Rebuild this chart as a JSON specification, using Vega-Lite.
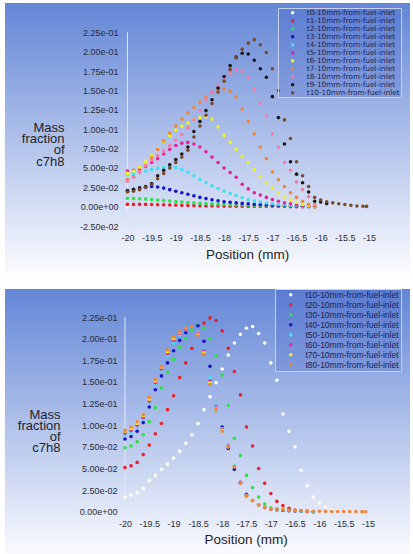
{
"$schema":"https://vega.github.io/schema/vega-lite/v6.json",
"padding":{"left":5,"top":3,"right":3,"bottom":0},
"background":"white",
"spacing":15,
"config":{"font":"Liberation Sans","view":{"stroke":null}},
"datasets":{
"top":[
{"s":"t0","x":-20,"y":0},{"s":"t0","x":-19,"y":0},{"s":"t0","x":-18,"y":0},{"s":"t0","x":-17,"y":0},
{"s":"t1","x":-20,"y":0.003},{"s":"t1","x":-19.875,"y":0.003},{"s":"t1","x":-19.75,"y":0.003},{"s":"t1","x":-19.625,"y":0.003},{"s":"t1","x":-19.5,"y":0.0028},{"s":"t1","x":-19.375,"y":0.0026},{"s":"t1","x":-19.25,"y":0.0024},{"s":"t1","x":-19.125,"y":0.0022},{"s":"t1","x":-19,"y":0.002},{"s":"t1","x":-18.875,"y":0.0018},{"s":"t1","x":-18.75,"y":0.0016},{"s":"t1","x":-18.625,"y":0.0014},{"s":"t1","x":-18.5,"y":0.0012},{"s":"t1","x":-18.375,"y":0.001},{"s":"t1","x":-18.25,"y":0.0009},{"s":"t1","x":-18.125,"y":0.0008},{"s":"t1","x":-18,"y":0.0007},{"s":"t1","x":-17.875,"y":0.0006},{"s":"t1","x":-17.75,"y":0.0005},{"s":"t1","x":-17.625,"y":0.0005},{"s":"t1","x":-17.5,"y":0.0004},{"s":"t1","x":-17.375,"y":0.0004},{"s":"t1","x":-17.25,"y":0.0003},{"s":"t1","x":-17.125,"y":0.0003},{"s":"t1","x":-17,"y":0.0002},{"s":"t1","x":-16.875,"y":0.0002},{"s":"t1","x":-16.75,"y":0.0002},{"s":"t1","x":-16.625,"y":0.0001},{"s":"t1","x":-16.5,"y":0.0001},{"s":"t1","x":-16.375,"y":0.0001},{"s":"t1","x":-16.25,"y":0},{"s":"t1","x":-16.125,"y":0},
{"s":"t2","x":-20,"y":0.011},{"s":"t2","x":-19.875,"y":0.0107},{"s":"t2","x":-19.75,"y":0.0103},{"s":"t2","x":-19.625,"y":0.0098},{"s":"t2","x":-19.5,"y":0.0092},{"s":"t2","x":-19.375,"y":0.0086},{"s":"t2","x":-19.25,"y":0.008},{"s":"t2","x":-19.125,"y":0.0073},{"s":"t2","x":-19,"y":0.0066},{"s":"t2","x":-18.875,"y":0.006},{"s":"t2","x":-18.75,"y":0.0055},{"s":"t2","x":-18.625,"y":0.005},{"s":"t2","x":-18.5,"y":0.0045},{"s":"t2","x":-18.375,"y":0.0041},{"s":"t2","x":-18.25,"y":0.0037},{"s":"t2","x":-18.125,"y":0.0033},{"s":"t2","x":-18,"y":0.003},{"s":"t2","x":-17.875,"y":0.0027},{"s":"t2","x":-17.75,"y":0.0024},{"s":"t2","x":-17.625,"y":0.0022},{"s":"t2","x":-17.5,"y":0.002},{"s":"t2","x":-17.375,"y":0.0017},{"s":"t2","x":-17.25,"y":0.0015},{"s":"t2","x":-17.125,"y":0.0012},{"s":"t2","x":-17,"y":0.001},{"s":"t2","x":-16.875,"y":0.0009},{"s":"t2","x":-16.75,"y":0.0007},{"s":"t2","x":-16.625,"y":0.0006},{"s":"t2","x":-16.5,"y":0.0005},{"s":"t2","x":-16.375,"y":0.0003},{"s":"t2","x":-16.25,"y":0.0002},{"s":"t2","x":-16.125,"y":0},
{"s":"t3","x":-20,"y":0.021},{"s":"t3","x":-19.875,"y":0.0225},{"s":"t3","x":-19.75,"y":0.024},{"s":"t3","x":-19.625,"y":0.025},{"s":"t3","x":-19.5,"y":0.026},{"s":"t3","x":-19.375,"y":0.0255},{"s":"t3","x":-19.25,"y":0.024},{"s":"t3","x":-19.125,"y":0.022},{"s":"t3","x":-19,"y":0.02},{"s":"t3","x":-18.875,"y":0.018},{"s":"t3","x":-18.75,"y":0.016},{"s":"t3","x":-18.625,"y":0.014},{"s":"t3","x":-18.5,"y":0.012},{"s":"t3","x":-18.375,"y":0.0105},{"s":"t3","x":-18.25,"y":0.009},{"s":"t3","x":-18.125,"y":0.0077},{"s":"t3","x":-18,"y":0.0065},{"s":"t3","x":-17.875,"y":0.0057},{"s":"t3","x":-17.75,"y":0.005},{"s":"t3","x":-17.625,"y":0.0043},{"s":"t3","x":-17.5,"y":0.0037},{"s":"t3","x":-17.375,"y":0.0032},{"s":"t3","x":-17.25,"y":0.0028},{"s":"t3","x":-17.125,"y":0.0024},{"s":"t3","x":-17,"y":0.002},{"s":"t3","x":-16.875,"y":0.0016},{"s":"t3","x":-16.75,"y":0.0013},{"s":"t3","x":-16.625,"y":0.001},{"s":"t3","x":-16.5,"y":0.0007},{"s":"t3","x":-16.375,"y":0.0004},{"s":"t3","x":-16.25,"y":0.0002},{"s":"t3","x":-16.125,"y":0},
{"s":"t4","x":-20,"y":0.041},{"s":"t4","x":-19.875,"y":0.0425},{"s":"t4","x":-19.75,"y":0.044},{"s":"t4","x":-19.625,"y":0.046},{"s":"t4","x":-19.5,"y":0.048},{"s":"t4","x":-19.375,"y":0.0495},{"s":"t4","x":-19.25,"y":0.0505},{"s":"t4","x":-19.125,"y":0.051},{"s":"t4","x":-19,"y":0.0505},{"s":"t4","x":-18.875,"y":0.048},{"s":"t4","x":-18.75,"y":0.0445},{"s":"t4","x":-18.625,"y":0.04},{"s":"t4","x":-18.5,"y":0.035},{"s":"t4","x":-18.375,"y":0.031},{"s":"t4","x":-18.25,"y":0.027},{"s":"t4","x":-18.125,"y":0.0235},{"s":"t4","x":-18,"y":0.02},{"s":"t4","x":-17.875,"y":0.017},{"s":"t4","x":-17.75,"y":0.0145},{"s":"t4","x":-17.625,"y":0.0115},{"s":"t4","x":-17.5,"y":0.009},{"s":"t4","x":-17.375,"y":0.0073},{"s":"t4","x":-17.25,"y":0.006},{"s":"t4","x":-17.125,"y":0.0048},{"s":"t4","x":-17,"y":0.0038},{"s":"t4","x":-16.875,"y":0.003},{"s":"t4","x":-16.75,"y":0.0023},{"s":"t4","x":-16.625,"y":0.0017},{"s":"t4","x":-16.5,"y":0.0012},{"s":"t4","x":-16.375,"y":0.0007},{"s":"t4","x":-16.25,"y":0.0003},{"s":"t4","x":-16.125,"y":0},
{"s":"t5","x":-20,"y":0.046},{"s":"t5","x":-19.875,"y":0.047},{"s":"t5","x":-19.75,"y":0.049},{"s":"t5","x":-19.625,"y":0.052},{"s":"t5","x":-19.5,"y":0.057},{"s":"t5","x":-19.375,"y":0.062},{"s":"t5","x":-19.25,"y":0.068},{"s":"t5","x":-19.125,"y":0.074},{"s":"t5","x":-19,"y":0.079},{"s":"t5","x":-18.875,"y":0.082},{"s":"t5","x":-18.75,"y":0.083},{"s":"t5","x":-18.625,"y":0.081},{"s":"t5","x":-18.5,"y":0.077},{"s":"t5","x":-18.375,"y":0.071},{"s":"t5","x":-18.25,"y":0.064},{"s":"t5","x":-18.125,"y":0.057},{"s":"t5","x":-18,"y":0.05},{"s":"t5","x":-17.875,"y":0.044},{"s":"t5","x":-17.75,"y":0.038},{"s":"t5","x":-17.625,"y":0.029},{"s":"t5","x":-17.5,"y":0.023},{"s":"t5","x":-17.375,"y":0.018},{"s":"t5","x":-17.25,"y":0.015},{"s":"t5","x":-17.125,"y":0.012},{"s":"t5","x":-17,"y":0.0092},{"s":"t5","x":-16.875,"y":0.007},{"s":"t5","x":-16.75,"y":0.0052},{"s":"t5","x":-16.625,"y":0.0038},{"s":"t5","x":-16.5,"y":0.0026},{"s":"t5","x":-16.375,"y":0.0015},{"s":"t5","x":-16.25,"y":0.0007},{"s":"t5","x":-16.125,"y":0},
{"s":"t6","x":-20,"y":0.043},{"s":"t6","x":-19.875,"y":0.046},{"s":"t6","x":-19.75,"y":0.051},{"s":"t6","x":-19.625,"y":0.058},{"s":"t6","x":-19.5,"y":0.066},{"s":"t6","x":-19.375,"y":0.075},{"s":"t6","x":-19.25,"y":0.084},{"s":"t6","x":-19.125,"y":0.092},{"s":"t6","x":-19,"y":0.099},{"s":"t6","x":-18.875,"y":0.104},{"s":"t6","x":-18.75,"y":0.108},{"s":"t6","x":-18.625,"y":0.112},{"s":"t6","x":-18.5,"y":0.115},{"s":"t6","x":-18.375,"y":0.116},{"s":"t6","x":-18.25,"y":0.113},{"s":"t6","x":-18.125,"y":0.103},{"s":"t6","x":-18,"y":0.092},{"s":"t6","x":-17.875,"y":0.083},{"s":"t6","x":-17.75,"y":0.074},{"s":"t6","x":-17.625,"y":0.065},{"s":"t6","x":-17.5,"y":0.057},{"s":"t6","x":-17.375,"y":0.048},{"s":"t6","x":-17.25,"y":0.039},{"s":"t6","x":-17.125,"y":0.031},{"s":"t6","x":-17,"y":0.024},{"s":"t6","x":-16.875,"y":0.018},{"s":"t6","x":-16.75,"y":0.013},{"s":"t6","x":-16.625,"y":0.0085},{"s":"t6","x":-16.5,"y":0.0055},{"s":"t6","x":-16.375,"y":0.003},{"s":"t6","x":-16.25,"y":0.0012},{"s":"t6","x":-16.125,"y":0},
{"s":"t7","x":-20,"y":0.035},{"s":"t7","x":-19.875,"y":0.039},{"s":"t7","x":-19.75,"y":0.045},{"s":"t7","x":-19.625,"y":0.053},{"s":"t7","x":-19.5,"y":0.063},{"s":"t7","x":-19.375,"y":0.074},{"s":"t7","x":-19.25,"y":0.085},{"s":"t7","x":-19.125,"y":0.095},{"s":"t7","x":-19,"y":0.104},{"s":"t7","x":-18.875,"y":0.113},{"s":"t7","x":-18.75,"y":0.121},{"s":"t7","x":-18.625,"y":0.128},{"s":"t7","x":-18.5,"y":0.135},{"s":"t7","x":-18.375,"y":0.141},{"s":"t7","x":-18.25,"y":0.147},{"s":"t7","x":-18.125,"y":0.151},{"s":"t7","x":-18,"y":0.152},{"s":"t7","x":-17.875,"y":0.149},{"s":"t7","x":-17.75,"y":0.142},{"s":"t7","x":-17.625,"y":0.126},{"s":"t7","x":-17.5,"y":0.11},{"s":"t7","x":-17.375,"y":0.094},{"s":"t7","x":-17.25,"y":0.077},{"s":"t7","x":-17.125,"y":0.062},{"s":"t7","x":-17,"y":0.045},{"s":"t7","x":-16.875,"y":0.035},{"s":"t7","x":-16.75,"y":0.026},{"s":"t7","x":-16.625,"y":0.018},{"s":"t7","x":-16.5,"y":0.012},{"s":"t7","x":-16.375,"y":0.007},{"s":"t7","x":-16.25,"y":0.003},{"s":"t7","x":-16.125,"y":0.0005},
{"s":"t8","x":-20,"y":0.033},{"s":"t8","x":-19.875,"y":0.038},{"s":"t8","x":-19.75,"y":0.045},{"s":"t8","x":-19.625,"y":0.053},{"s":"t8","x":-19.5,"y":0.06},{"s":"t8","x":-19.375,"y":0.066},{"s":"t8","x":-19.25,"y":0.072},{"s":"t8","x":-19.125,"y":0.079},{"s":"t8","x":-19,"y":0.086},{"s":"t8","x":-18.875,"y":0.093},{"s":"t8","x":-18.75,"y":0.102},{"s":"t8","x":-18.625,"y":0.112},{"s":"t8","x":-18.5,"y":0.124},{"s":"t8","x":-18.375,"y":0.138},{"s":"t8","x":-18.25,"y":0.148},{"s":"t8","x":-18.125,"y":0.156},{"s":"t8","x":-18,"y":0.164},{"s":"t8","x":-17.875,"y":0.172},{"s":"t8","x":-17.75,"y":0.177},{"s":"t8","x":-17.625,"y":0.175},{"s":"t8","x":-17.5,"y":0.167},{"s":"t8","x":-17.375,"y":0.151},{"s":"t8","x":-17.25,"y":0.134},{"s":"t8","x":-17.125,"y":0.117},{"s":"t8","x":-17,"y":0.094},{"s":"t8","x":-16.875,"y":0.077},{"s":"t8","x":-16.75,"y":0.057},{"s":"t8","x":-16.625,"y":0.047},{"s":"t8","x":-16.5,"y":0.032},{"s":"t8","x":-16.375,"y":0.022},{"s":"t8","x":-16.25,"y":0.013},{"s":"t8","x":-16.125,"y":0.003},
{"s":"t9","x":-20,"y":0.02},{"s":"t9","x":-19.875,"y":0.022},{"s":"t9","x":-19.75,"y":0.024},{"s":"t9","x":-19.625,"y":0.026},{"s":"t9","x":-19.5,"y":0.03},{"s":"t9","x":-19.375,"y":0.04},{"s":"t9","x":-19.25,"y":0.047},{"s":"t9","x":-19.125,"y":0.054},{"s":"t9","x":-19,"y":0.061},{"s":"t9","x":-18.875,"y":0.068},{"s":"t9","x":-18.75,"y":0.077},{"s":"t9","x":-18.625,"y":0.097},{"s":"t9","x":-18.5,"y":0.11},{"s":"t9","x":-18.375,"y":0.124},{"s":"t9","x":-18.25,"y":0.138},{"s":"t9","x":-18.125,"y":0.153},{"s":"t9","x":-18,"y":0.168},{"s":"t9","x":-17.875,"y":0.182},{"s":"t9","x":-17.75,"y":0.193},{"s":"t9","x":-17.625,"y":0.198},{"s":"t9","x":-17.5,"y":0.197},{"s":"t9","x":-17.375,"y":0.189},{"s":"t9","x":-17.25,"y":0.178},{"s":"t9","x":-17.125,"y":0.167},{"s":"t9","x":-17,"y":0.142},{"s":"t9","x":-16.875,"y":0.115},{"s":"t9","x":-16.75,"y":0.081},{"s":"t9","x":-16.625,"y":0.058},{"s":"t9","x":-16.5,"y":0.042},{"s":"t9","x":-16.375,"y":0.031},{"s":"t9","x":-16.25,"y":0.019},{"s":"t9","x":-16.125,"y":0.007},{"s":"t9","x":-16,"y":0.006},{"s":"t9","x":-15.875,"y":0.004},
{"s":"t10","x":-20,"y":0.019},{"s":"t10","x":-19.875,"y":0.02},{"s":"t10","x":-19.75,"y":0.022},{"s":"t10","x":-19.625,"y":0.025},{"s":"t10","x":-19.5,"y":0.029},{"s":"t10","x":-19.375,"y":0.036},{"s":"t10","x":-19.25,"y":0.043},{"s":"t10","x":-19.125,"y":0.05},{"s":"t10","x":-19,"y":0.057},{"s":"t10","x":-18.875,"y":0.064},{"s":"t10","x":-18.75,"y":0.073},{"s":"t10","x":-18.625,"y":0.09},{"s":"t10","x":-18.5,"y":0.104},{"s":"t10","x":-18.375,"y":0.118},{"s":"t10","x":-18.25,"y":0.133},{"s":"t10","x":-18.125,"y":0.148},{"s":"t10","x":-18,"y":0.162},{"s":"t10","x":-17.875,"y":0.177},{"s":"t10","x":-17.75,"y":0.192},{"s":"t10","x":-17.625,"y":0.203},{"s":"t10","x":-17.5,"y":0.211},{"s":"t10","x":-17.375,"y":0.2155},{"s":"t10","x":-17.25,"y":0.209},{"s":"t10","x":-17.125,"y":0.199},{"s":"t10","x":-17,"y":0.178},{"s":"t10","x":-16.875,"y":0.15},{"s":"t10","x":-16.75,"y":0.112},{"s":"t10","x":-16.625,"y":0.088},{"s":"t10","x":-16.5,"y":0.058},{"s":"t10","x":-16.375,"y":0.04},{"s":"t10","x":-16.25,"y":0.026},{"s":"t10","x":-16.125,"y":0.012},{"s":"t10","x":-16,"y":0.0086},{"s":"t10","x":-15.875,"y":0.0065},{"s":"t10","x":-15.75,"y":0.005},{"s":"t10","x":-15.625,"y":0.0038},{"s":"t10","x":-15.5,"y":0.0028},{"s":"t10","x":-15.375,"y":0.0018},{"s":"t10","x":-15.25,"y":0.001},{"s":"t10","x":-15.125,"y":0.0006},{"s":"t10","x":-15.05,"y":0.0004}
],
"bottom":[
{"s":"t10","x":-20,"y":0.017},{"s":"t10","x":-19.875,"y":0.019},{"s":"t10","x":-19.75,"y":0.022},{"s":"t10","x":-19.625,"y":0.027},{"s":"t10","x":-19.5,"y":0.036},{"s":"t10","x":-19.375,"y":0.042},{"s":"t10","x":-19.25,"y":0.049},{"s":"t10","x":-19.125,"y":0.055},{"s":"t10","x":-19,"y":0.062},{"s":"t10","x":-18.875,"y":0.07},{"s":"t10","x":-18.75,"y":0.079},{"s":"t10","x":-18.625,"y":0.089},{"s":"t10","x":-18.5,"y":0.102},{"s":"t10","x":-18.375,"y":0.118},{"s":"t10","x":-18.25,"y":0.133},{"s":"t10","x":-18.125,"y":0.149},{"s":"t10","x":-18,"y":0.165},{"s":"t10","x":-17.875,"y":0.181},{"s":"t10","x":-17.75,"y":0.195},{"s":"t10","x":-17.625,"y":0.205},{"s":"t10","x":-17.5,"y":0.212},{"s":"t10","x":-17.375,"y":0.214},{"s":"t10","x":-17.25,"y":0.206},{"s":"t10","x":-17.125,"y":0.195},{"s":"t10","x":-17,"y":0.172},{"s":"t10","x":-16.875,"y":0.152},{"s":"t10","x":-16.75,"y":0.113},{"s":"t10","x":-16.625,"y":0.093},{"s":"t10","x":-16.5,"y":0.075},{"s":"t10","x":-16.375,"y":0.048},{"s":"t10","x":-16.25,"y":0.03},{"s":"t10","x":-16.125,"y":0.017},{"s":"t10","x":-16,"y":0.01},{"s":"t10","x":-15.875,"y":0.0055},{"s":"t10","x":-15.75,"y":0.0025},{"s":"t10","x":-15.625,"y":0.001},
{"s":"t20","x":-20,"y":0.051},{"s":"t20","x":-19.875,"y":0.053},{"s":"t20","x":-19.75,"y":0.057},{"s":"t20","x":-19.625,"y":0.066},{"s":"t20","x":-19.5,"y":0.077},{"s":"t20","x":-19.375,"y":0.09},{"s":"t20","x":-19.25,"y":0.102},{"s":"t20","x":-19.125,"y":0.118},{"s":"t20","x":-19,"y":0.134},{"s":"t20","x":-18.875,"y":0.155},{"s":"t20","x":-18.75,"y":0.172},{"s":"t20","x":-18.625,"y":0.189},{"s":"t20","x":-18.5,"y":0.206},{"s":"t20","x":-18.375,"y":0.218},{"s":"t20","x":-18.25,"y":0.224},{"s":"t20","x":-18.125,"y":0.221},{"s":"t20","x":-18,"y":0.209},{"s":"t20","x":-17.875,"y":0.189},{"s":"t20","x":-17.75,"y":0.162},{"s":"t20","x":-17.625,"y":0.135},{"s":"t20","x":-17.5,"y":0.098},{"s":"t20","x":-17.375,"y":0.076},{"s":"t20","x":-17.25,"y":0.05},{"s":"t20","x":-17.125,"y":0.033},{"s":"t20","x":-17,"y":0.021},{"s":"t20","x":-16.875,"y":0.012},{"s":"t20","x":-16.75,"y":0.007},{"s":"t20","x":-16.625,"y":0.004},{"s":"t20","x":-16.5,"y":0.002},{"s":"t20","x":-16.375,"y":0.001},{"s":"t20","x":-16.25,"y":0.0005},{"s":"t20","x":-16.125,"y":0},
{"s":"t30","x":-20,"y":0.074},{"s":"t30","x":-19.875,"y":0.076},{"s":"t30","x":-19.75,"y":0.081},{"s":"t30","x":-19.625,"y":0.089},{"s":"t30","x":-19.5,"y":0.104},{"s":"t30","x":-19.375,"y":0.12},{"s":"t30","x":-19.25,"y":0.143},{"s":"t30","x":-19.125,"y":0.161},{"s":"t30","x":-19,"y":0.176},{"s":"t30","x":-18.875,"y":0.19},{"s":"t30","x":-18.75,"y":0.2},{"s":"t30","x":-18.625,"y":0.21},{"s":"t30","x":-18.5,"y":0.216},{"s":"t30","x":-18.375,"y":0.212},{"s":"t30","x":-18.25,"y":0.2},{"s":"t30","x":-18.125,"y":0.18},{"s":"t30","x":-18,"y":0.158},{"s":"t30","x":-17.875,"y":0.123},{"s":"t30","x":-17.75,"y":0.085},{"s":"t30","x":-17.625,"y":0.065},{"s":"t30","x":-17.5,"y":0.042},{"s":"t30","x":-17.375,"y":0.028},{"s":"t30","x":-17.25,"y":0.017},{"s":"t30","x":-17.125,"y":0.009},{"s":"t30","x":-17,"y":0.0045},{"s":"t30","x":-16.875,"y":0.003},{"s":"t30","x":-16.75,"y":0.002},{"s":"t30","x":-16.625,"y":0.0015},{"s":"t30","x":-16.5,"y":0.001},{"s":"t30","x":-16.375,"y":0.0008},{"s":"t30","x":-16.25,"y":0.0005},{"s":"t30","x":-16.125,"y":0},
{"s":"t40","x":-20,"y":0.084},{"s":"t40","x":-19.875,"y":0.087},{"s":"t40","x":-19.75,"y":0.093},{"s":"t40","x":-19.625,"y":0.103},{"s":"t40","x":-19.5,"y":0.121},{"s":"t40","x":-19.375,"y":0.141},{"s":"t40","x":-19.25,"y":0.157},{"s":"t40","x":-19.125,"y":0.172},{"s":"t40","x":-19,"y":0.186},{"s":"t40","x":-18.875,"y":0.198},{"s":"t40","x":-18.75,"y":0.207},{"s":"t40","x":-18.625,"y":0.214},{"s":"t40","x":-18.5,"y":0.215},{"s":"t40","x":-18.375,"y":0.197},{"s":"t40","x":-18.25,"y":0.168},{"s":"t40","x":-18.125,"y":0.122},{"s":"t40","x":-18,"y":0.098},{"s":"t40","x":-17.875,"y":0.073},{"s":"t40","x":-17.75,"y":0.049},{"s":"t40","x":-17.625,"y":0.033},{"s":"t40","x":-17.5,"y":0.02},{"s":"t40","x":-17.375,"y":0.013},{"s":"t40","x":-17.25,"y":0.008},{"s":"t40","x":-17.125,"y":0.005},{"s":"t40","x":-17,"y":0.003},{"s":"t40","x":-16.875,"y":0.0022},{"s":"t40","x":-16.75,"y":0.0015},{"s":"t40","x":-16.625,"y":0.0011},{"s":"t40","x":-16.5,"y":0.0008},{"s":"t40","x":-16.375,"y":0.0005},{"s":"t40","x":-16.25,"y":0.0003},{"s":"t40","x":-16.125,"y":0},
{"s":"t50","x":-20,"y":0.089},{"s":"t50","x":-19.875,"y":0.092},{"s":"t50","x":-19.75,"y":0.098},{"s":"t50","x":-19.625,"y":0.107},{"s":"t50","x":-19.5,"y":0.126},{"s":"t50","x":-19.375,"y":0.147},{"s":"t50","x":-19.25,"y":0.163},{"s":"t50","x":-19.125,"y":0.18},{"s":"t50","x":-19,"y":0.195},{"s":"t50","x":-18.875,"y":0.204},{"s":"t50","x":-18.75,"y":0.21},{"s":"t50","x":-18.625,"y":0.214},{"s":"t50","x":-18.5,"y":0.207},{"s":"t50","x":-18.375,"y":0.188},{"s":"t50","x":-18.25,"y":0.155},{"s":"t50","x":-18.125,"y":0.122},{"s":"t50","x":-18,"y":0.096},{"s":"t50","x":-17.875,"y":0.077},{"s":"t50","x":-17.75,"y":0.053},{"s":"t50","x":-17.625,"y":0.034},{"s":"t50","x":-17.5,"y":0.019},{"s":"t50","x":-17.375,"y":0.013},{"s":"t50","x":-17.25,"y":0.008},{"s":"t50","x":-17.125,"y":0.005},{"s":"t50","x":-17,"y":0.003},{"s":"t50","x":-16.875,"y":0.0025},{"s":"t50","x":-16.75,"y":0.002},{"s":"t50","x":-16.625,"y":0.0015},{"s":"t50","x":-16.5,"y":0.001},{"s":"t50","x":-16.375,"y":0.0007},{"s":"t50","x":-16.25,"y":0.0004},{"s":"t50","x":-16.125,"y":0},
{"s":"t60","x":-20,"y":0.091},{"s":"t60","x":-19.875,"y":0.094},{"s":"t60","x":-19.75,"y":0.1},{"s":"t60","x":-19.625,"y":0.109},{"s":"t60","x":-19.5,"y":0.128},{"s":"t60","x":-19.375,"y":0.149},{"s":"t60","x":-19.25,"y":0.165},{"s":"t60","x":-19.125,"y":0.183},{"s":"t60","x":-19,"y":0.198},{"s":"t60","x":-18.875,"y":0.206},{"s":"t60","x":-18.75,"y":0.211},{"s":"t60","x":-18.625,"y":0.214},{"s":"t60","x":-18.5,"y":0.206},{"s":"t60","x":-18.375,"y":0.186},{"s":"t60","x":-18.25,"y":0.151},{"s":"t60","x":-18.125,"y":0.12},{"s":"t60","x":-18,"y":0.095},{"s":"t60","x":-17.875,"y":0.076},{"s":"t60","x":-17.75,"y":0.052},{"s":"t60","x":-17.625,"y":0.034},{"s":"t60","x":-17.5,"y":0.019},{"s":"t60","x":-17.375,"y":0.013},{"s":"t60","x":-17.25,"y":0.008},{"s":"t60","x":-17.125,"y":0.005},{"s":"t60","x":-17,"y":0.003},{"s":"t60","x":-16.75,"y":0.002},{"s":"t60","x":-16.5,"y":0.001},{"s":"t60","x":-16.25,"y":0.0004},
{"s":"t70","x":-20,"y":0.093},{"s":"t70","x":-19.875,"y":0.096},{"s":"t70","x":-19.75,"y":0.102},{"s":"t70","x":-19.625,"y":0.111},{"s":"t70","x":-19.5,"y":0.13},{"s":"t70","x":-19.375,"y":0.151},{"s":"t70","x":-19.25,"y":0.167},{"s":"t70","x":-19.125,"y":0.185},{"s":"t70","x":-19,"y":0.2},{"s":"t70","x":-18.875,"y":0.207},{"s":"t70","x":-18.75,"y":0.212},{"s":"t70","x":-18.625,"y":0.214},{"s":"t70","x":-18.5,"y":0.205},{"s":"t70","x":-18.375,"y":0.184},{"s":"t70","x":-18.25,"y":0.149},{"s":"t70","x":-18.125,"y":0.119},{"s":"t70","x":-18,"y":0.094},{"s":"t70","x":-17.875,"y":0.075},{"s":"t70","x":-17.75,"y":0.052},{"s":"t70","x":-17.625,"y":0.033},{"s":"t70","x":-17.5,"y":0.018},{"s":"t70","x":-17.375,"y":0.013},{"s":"t70","x":-17.25,"y":0.008},{"s":"t70","x":-17.125,"y":0.005},{"s":"t70","x":-17,"y":0.0035},{"s":"t70","x":-16.75,"y":0.0025},{"s":"t70","x":-16.5,"y":0.0015},{"s":"t70","x":-16.25,"y":0.0008},
{"s":"t80","x":-20,"y":0.094},{"s":"t80","x":-19.875,"y":0.098},{"s":"t80","x":-19.75,"y":0.104},{"s":"t80","x":-19.625,"y":0.112},{"s":"t80","x":-19.5,"y":0.132},{"s":"t80","x":-19.375,"y":0.153},{"s":"t80","x":-19.25,"y":0.168},{"s":"t80","x":-19.125,"y":0.187},{"s":"t80","x":-19,"y":0.202},{"s":"t80","x":-18.875,"y":0.208},{"s":"t80","x":-18.75,"y":0.212},{"s":"t80","x":-18.625,"y":0.214},{"s":"t80","x":-18.5,"y":0.204},{"s":"t80","x":-18.375,"y":0.182},{"s":"t80","x":-18.25,"y":0.147},{"s":"t80","x":-18.125,"y":0.118},{"s":"t80","x":-18,"y":0.093},{"s":"t80","x":-17.875,"y":0.075},{"s":"t80","x":-17.75,"y":0.052},{"s":"t80","x":-17.625,"y":0.033},{"s":"t80","x":-17.5,"y":0.018},{"s":"t80","x":-17.375,"y":0.013},{"s":"t80","x":-17.25,"y":0.008},{"s":"t80","x":-17.125,"y":0.005},{"s":"t80","x":-17,"y":0.0035},{"s":"t80","x":-16.875,"y":0.003},{"s":"t80","x":-16.75,"y":0.0025},{"s":"t80","x":-16.625,"y":0.002},{"s":"t80","x":-16.5,"y":0.0015},{"s":"t80","x":-16.375,"y":0.001},{"s":"t80","x":-16.25,"y":0.0008},{"s":"t80","x":-16.125,"y":0.0006},{"s":"t80","x":-16,"y":0.0005},{"s":"t80","x":-15.875,"y":0.0004},{"s":"t80","x":-15.75,"y":0.0003},{"s":"t80","x":-15.625,"y":0.0003},{"s":"t80","x":-15.5,"y":0.0002},{"s":"t80","x":-15.375,"y":0.0002},{"s":"t80","x":-15.25,"y":0.0001},{"s":"t80","x":-15.125,"y":0.0001},{"s":"t80","x":-15.05,"y":0}
]
},
"vconcat":[
{
"width":405,"height":270,
"view":{"stroke":null,"fill":{"gradient":"linear","x1":0,"y1":0,"x2":0,"y2":1,"stops":[{"offset":0,"color":"#6386d6"},{"offset":1,"color":"#fafbfe"}]}},
"encoding":{
  "x":{"field":"x","type":"quantitative","scale":{"domain":[-22.536,-14.151],"nice":false,"zero":false},
   "axis":{"orient":"bottom","offset":-41.5,"values":[-20,-19.5,-19,-18.5,-18,-17.5,-17,-16.5,-16,-15.5,-15],"labelExpr":"''+datum.value","domain":false,"ticks":false,"grid":false,"labelPadding":2,"labelFontSize":9,"labelColor":"#2a2d3a","labelOverlap":false,"labelFlush":false,"labelBound":false,"title":"Position (mm)","titleFontSize":13.5,"titleFontWeight":"normal","titleColor":"#1e1f2a","titleX":242,"titleY":22.5,"titleBaseline":"middle","titleAlign":"center"}},
  "y":{"field":"y","type":"quantitative","scale":{"domain":[-0.0855,0.2628],"nice":false,"zero":false},
   "axis":{"orient":"left","offset":-115,"values":[-0.025,0,0.025,0.05,0.075,0.1,0.125,0.15,0.175,0.2,0.225],"labelExpr":"datum.value == 0 ? '0.00e+00' : datum.value < 0 ? '-2.50e-02' : datum.value < 0.09 ? format(datum.value*100, '.2f') + 'e-02' : format(datum.value*10, '.2f') + 'e-01'","domain":false,"ticks":false,"grid":false,"labelPadding":2,"labelFontSize":9,"labelColor":"#2a2d3a","labelOverlap":false,"labelFlush":false,"labelBound":false,"title":["Mass","fraction","of","c7h8"],"titleAngle":0,"titleAlign":"right","titleBaseline":"top","titleX":-56,"titleY":118.5,"titleFontSize":13,"titleLineHeight":11.2,"titleFontWeight":"normal","titleColor":"#1e1f2a"}}
},
"layer":[
{"data":{"values":[{"x":-20,"y":0.225,"y2":-0.025}]},"mark":{"type":"rule","color":"#e2e8f6","strokeWidth":1},
 "encoding":{"y2":{"field":"y2"}}},
{"data":{"name":"top"},"mark":{"type":"circle","size":13,"opacity":1},
 "encoding":{
  "color":{"field":"s","type":"nominal",
   "scale":{"domain":["t0","t1","t2","t3","t4","t5","t6","t7","t8","t9","t10"],"range":["#ffffff","#e8202a","#2ee04a","#1414c8","#40e0f0","#e8209a","#f2f020","#ee863a","#f47ca8","#1c1616","#7a4a2c"]},
   "legend":{"title":null,"orient":"none","legendX":273,"legendY":5,"padding":1,"fillColor":"rgba(50,80,190,0.18)","strokeColor":"#c8d2ee","labelFont":"DejaVu Sans","labelFontSize":7.3,"labelColor":"#1c2450","rowPadding":0,"symbolType":"circle","symbolSize":12,"symbolStrokeWidth":0,"symbolOffset":10,"labelOffset":10.5,"labelLimit":200,"labelExpr":"datum.label + '-10mm-from-fuel-inlet'"}}
 }}
]
},
{
"width":405,"height":266,
"view":{"stroke":null,"fill":{"gradient":"linear","x1":0,"y1":0,"x2":0,"y2":1,"stops":[{"offset":0,"color":"#6386d6"},{"offset":1,"color":"#fafbfe"}]}},
"encoding":{
  "x":{"field":"x","type":"quantitative","scale":{"domain":[-22.469,-14.136],"nice":false,"zero":false},
   "axis":{"orient":"bottom","offset":-37.5,"values":[-20,-19.5,-19,-18.5,-18,-17.5,-17,-16.5,-16,-15.5,-15],"labelExpr":"''+datum.value","domain":false,"ticks":false,"grid":false,"labelPadding":2,"labelFontSize":9,"labelColor":"#2a2d3a","labelOverlap":false,"labelFlush":false,"labelBound":false,"title":"Position (mm)","titleFontSize":13.5,"titleFontWeight":"normal","titleColor":"#1e1f2a","titleX":240.7,"titleY":22.2,"titleBaseline":"middle","titleAlign":"center"}},
  "y":{"field":"y","type":"quantitative","scale":{"domain":[-0.05,0.2574],"nice":false,"zero":false},
   "axis":{"orient":"left","offset":-114,"values":[0,0.025,0.05,0.075,0.1,0.125,0.15,0.175,0.2,0.225],"labelExpr":"datum.value == 0 ? '0.00e+00' : datum.value < 0 ? '-2.50e-02' : datum.value < 0.09 ? format(datum.value*100, '.2f') + 'e-02' : format(datum.value*10, '.2f') + 'e-01'","domain":false,"ticks":false,"grid":false,"labelPadding":2,"labelFontSize":9,"labelColor":"#2a2d3a","labelOverlap":false,"labelFlush":false,"labelBound":false,"title":["Mass","fraction","of","c7h8"],"titleAngle":0,"titleAlign":"right","titleBaseline":"top","titleX":-59,"titleY":119.5,"titleFontSize":13,"titleLineHeight":11,"titleFontWeight":"normal","titleColor":"#1e1f2a"}}
},
"layer":[
{"data":{"values":[{"x":-20,"y":0.225,"y2":0}]},"mark":{"type":"rule","color":"#e2e8f6","strokeWidth":1},
 "encoding":{"y2":{"field":"y2"}}},
{"data":{"name":"bottom"},"mark":{"type":"circle","size":13,"opacity":1},
 "encoding":{
  "color":{"field":"s","type":"nominal",
   "scale":{"domain":["t10","t20","t30","t40","t50","t60","t70","t80"],"range":["#ffffff","#e8202a","#2ee04a","#1414c8","#40e0f0","#e8209a","#f2f020","#ee863a"]},
   "legend":{"title":null,"orient":"none","legendX":270,"legendY":0,"padding":1.5,"fillColor":"rgba(50,80,190,0.18)","strokeColor":"#c8d2ee","labelFontSize":8.5,"labelColor":"#1c2450","rowPadding":1,"symbolType":"circle","symbolSize":12,"symbolStrokeWidth":0,"symbolOffset":10,"labelOffset":10.5,"labelLimit":200,"labelExpr":"datum.label + '-10mm-from-fuel-inlet'"}}
 }}
]
}
],
"resolve":{"scale":{"color":"independent","x":"independent","y":"independent"},"legend":{"color":"independent"}}
}
